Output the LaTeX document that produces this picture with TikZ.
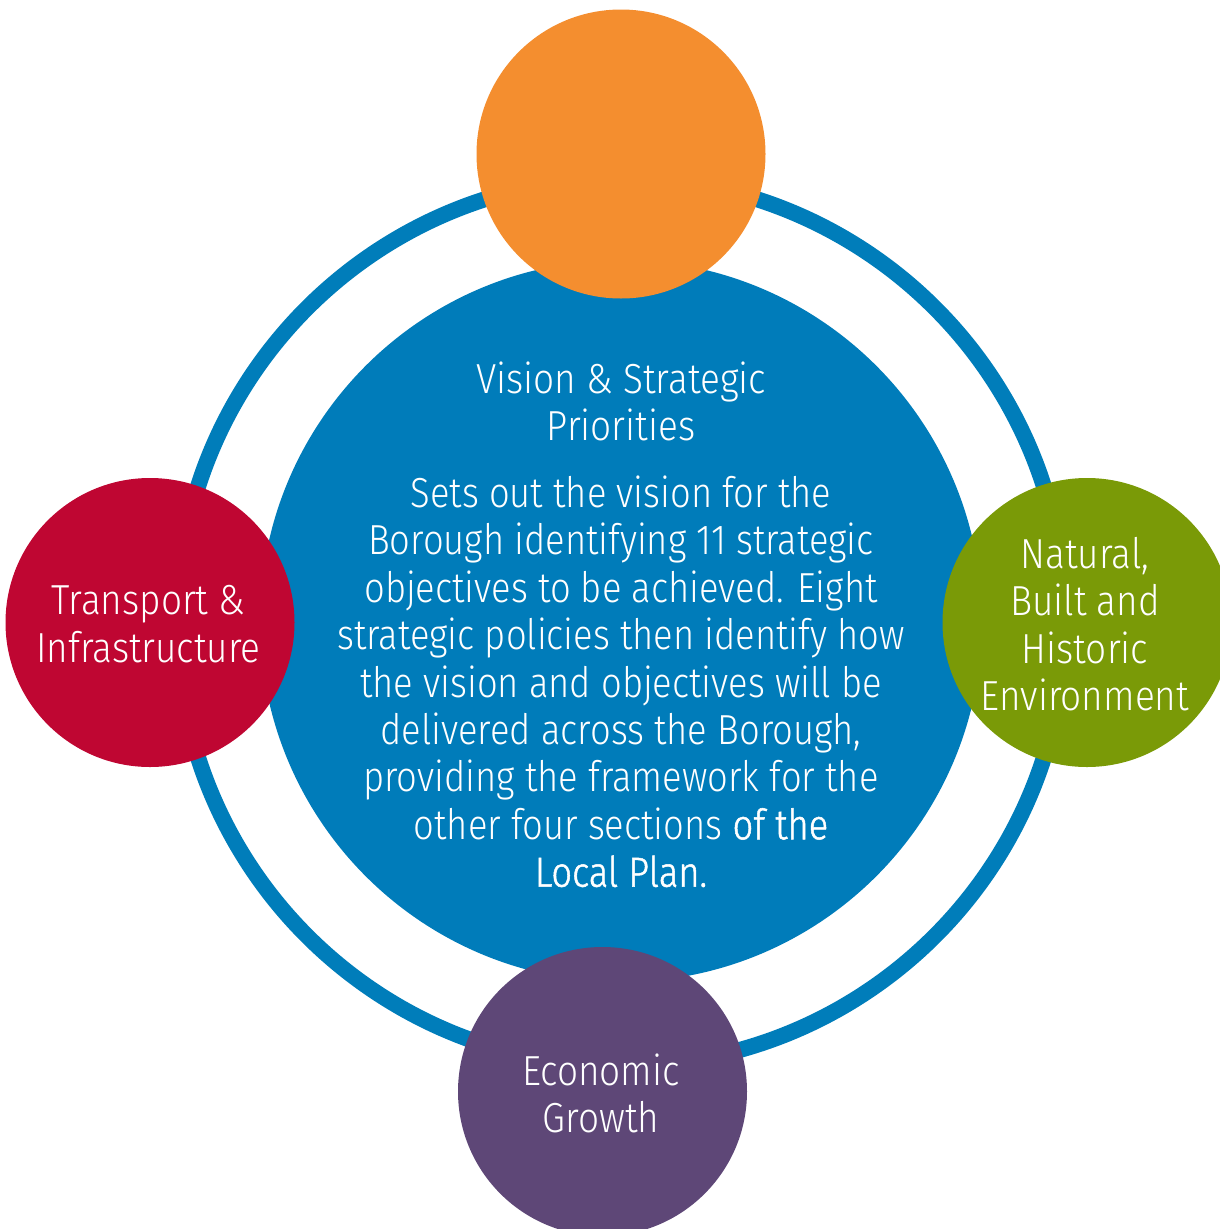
\documentclass[tikz,border=0pt]{standalone}
\usepackage{fontspec}
\setmainfont{Fira Sans}[UprightFont={* Light}, FakeStretch=0.88]
\newfontfamily\regfont{Fira Sans}[UprightFont={* Light}, FakeStretch=0.865, FakeBold=1.2]
\definecolor{ringblue}{HTML}{007DBA}
\definecolor{coreblue}{HTML}{007CBA}
\definecolor{orangeC}{HTML}{F48E2F}
\definecolor{redC}{HTML}{BF0632}
\definecolor{greenC}{HTML}{7A9A07}
\definecolor{purpleC}{HTML}{5E4777}
\begin{document}
\begin{tikzpicture}[x=1pt,y=1pt,
  bubble/.style={circle, inner sep=0pt, minimum size=289pt},
  txt/.style={text=white, align=center, inner sep=0pt, font=\fontsize{42}{47.4}\selectfont}]
\useasboundingbox (0,0) rectangle (1220,-1229);
\clip (0,0) rectangle (1220,-1229);
\node[circle, inner sep=0pt, minimum size=888pt, draw=ringblue, line width=16pt] (ring) at (621,-622) {};
\node[circle, inner sep=0pt, minimum size=722pt, fill=coreblue] (core) at (621,-621) {};
\node[bubble, fill=orangeC] (top) at (621,-154) {};
\node[bubble, fill=redC] (left) at (150,-622.5) {};
\node[bubble, fill=greenC] (right) at (1087,-622.5) {};
\node[bubble, fill=purpleC] (bottom) at (602.5,-1091.5) {};
\node[txt] (title) at (621,-401.5) {Vision \& Strategic\\Priorities};
\node[txt, font=\fontsize{42}{47.4}\selectfont\addfontfeature{FakeStretch=0.865}] (body) at (621,-681.5) {Sets out the vision for the\\Borough identifying 11 strategic\\objectives to be achieved. Eight\\strategic policies then identify how\\the vision and objectives will be\\delivered across the Borough,\\providing the framework for the\\other four sections {\regfont of the}\\{\regfont Local Plan.}};
\node[txt] (ltxt) at (148.5,-624) {Transport \&\\Infrastructure};
\node[txt] (rtxt) at (1085,-624) {Natural,\\Built and\\Historic\\Environment};
\node[txt] (btxt) at (601,-1093.5) {Economic\\Growth};
\end{tikzpicture}
\end{document}
